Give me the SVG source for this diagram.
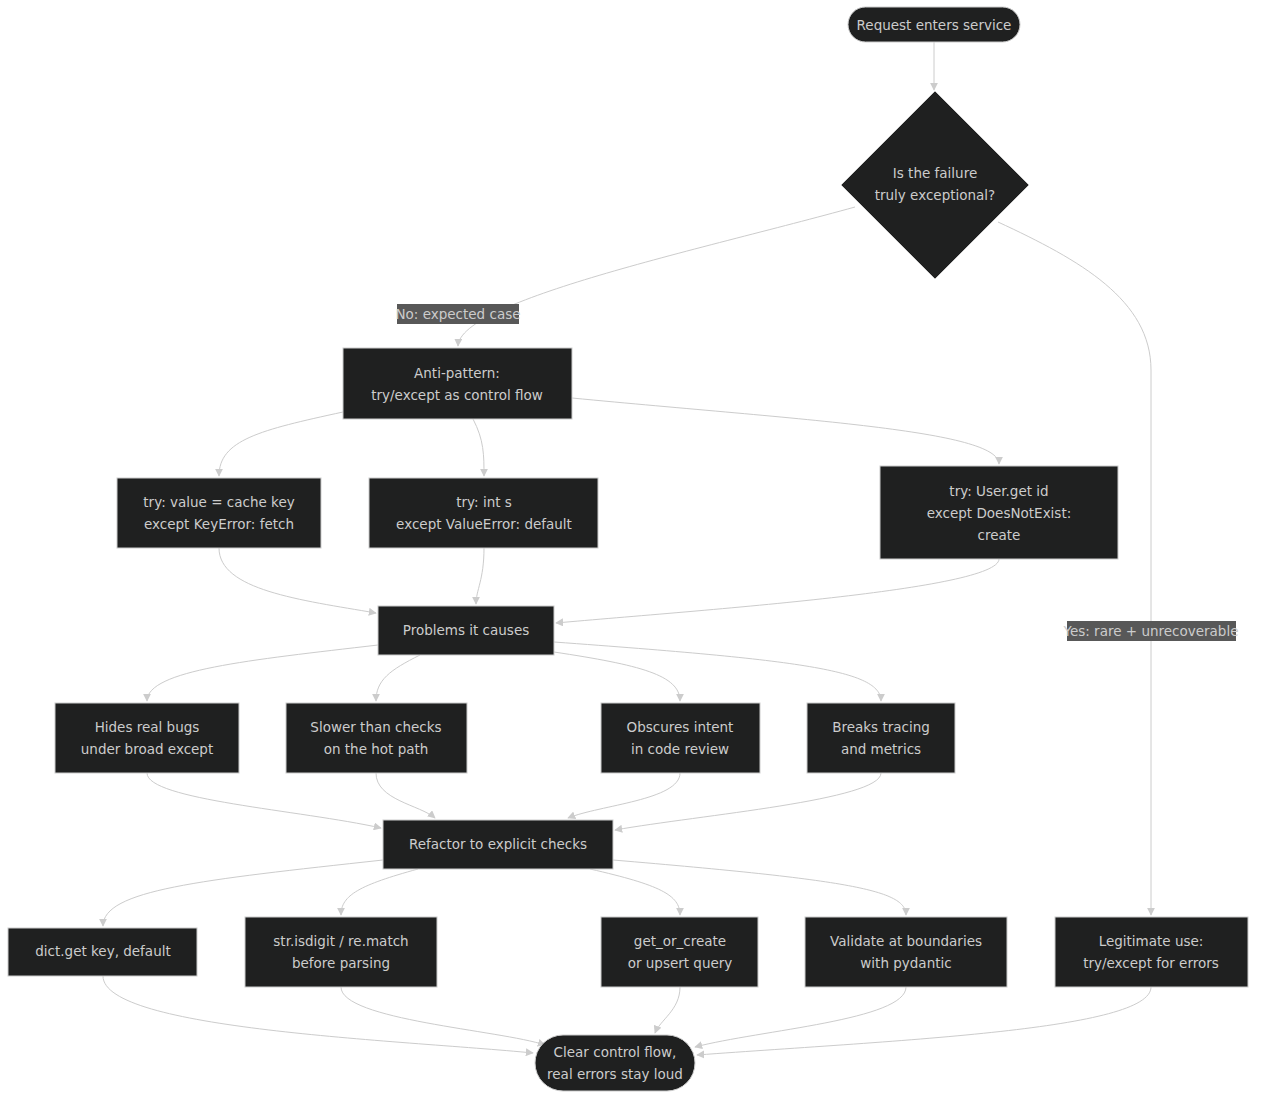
<svg xmlns="http://www.w3.org/2000/svg" width="1264" height="1107" viewBox="0 0 1264 1107">
<style>
.n{fill:#1f2020;stroke:#cccccc;stroke-width:1}
.t{fill:#cccccc;font-family:"DejaVu Sans",sans-serif;font-size:13.5px;text-anchor:middle}
.e{fill:none;stroke:#cccccc;stroke-width:1;marker-end:url(#a)}
.lb{fill:#585858}
</style>
<defs><marker id="a" viewBox="0 0 10 10" refX="9" refY="5" markerWidth="8" markerHeight="8" orient="auto"><path d="M0,0L10,5L0,10z" fill="#cccccc"/></marker></defs>
<rect width="1264" height="1107" fill="#ffffff"/>
<g id="edges">
<path class="e" d="M934,42V90"/>
<path class="e" d="M855,207C700,250 460,300 458,346"/>
<path class="e" d="M998,222C1080,260 1151,300 1151,370V915"/>
<path class="e" d="M343,412C260,430 219,440 219,476"/>
<path class="e" d="M473,419C484,440 484,455 484,476"/>
<path class="e" d="M572,398C800,420 999,430 999,464"/>
<path class="e" d="M219,548C219,590 300,600 376,613"/>
<path class="e" d="M484,548C484,580 476,590 476,604"/>
<path class="e" d="M999,559C999,590 700,610 556,623"/>
<path class="e" d="M378,645C250,660 147,670 147,701"/>
<path class="e" d="M420,655C390,670 376,680 376,701"/>
<path class="e" d="M554,652C640,665 680,675 680,701"/>
<path class="e" d="M554,642C800,660 881,670 881,701"/>
<path class="e" d="M147,773C147,800 300,810 381,828"/>
<path class="e" d="M376,773C376,800 420,805 435,818"/>
<path class="e" d="M680,773C680,800 600,805 568,818"/>
<path class="e" d="M881,773C881,800 700,815 615,830"/>
<path class="e" d="M383,860C200,880 103,890 103,926"/>
<path class="e" d="M418,869C360,885 341,895 341,915"/>
<path class="e" d="M590,869C660,885 680,895 680,915"/>
<path class="e" d="M613,860C850,880 906,890 906,915"/>
<path class="e" d="M103,976C103,1030 400,1040 533,1053"/>
<path class="e" d="M341,987C341,1020 500,1030 545,1045"/>
<path class="e" d="M680,987C680,1010 660,1020 655,1033"/>
<path class="e" d="M906,987C906,1020 760,1030 695,1047"/>
<path class="e" d="M1151,987C1151,1030 900,1040 697,1055"/>
</g>
<g id="lbl1"><rect class="lb" x="397" y="304" width="122" height="20"/><text class="t" x="458" y="319">No: expected case</text></g>
<g id="lbl2"><rect class="lb" x="1067" y="621" width="169" height="20"/><text class="t" x="1151" y="636">Yes: rare + unrecoverable</text></g>
<g id="start"><rect class="n" x="848" y="7" width="172" height="35" rx="17.5"/><text class="t" x="934" y="30">Request enters service</text></g>
<g id="decision"><polygon class="n" points="935,91 1029,185 935,279 841,185"/><text class="t" x="935" y="178">Is the failure</text><text class="t" x="935" y="200">truly exceptional?</text></g>
<g id="anti"><rect class="n" x="343" y="348" width="229" height="71"/><text class="t" x="457" y="378">Anti-pattern:</text><text class="t" x="457" y="400">try/except as control flow</text></g>
<g id="cache"><rect class="n" x="117" y="478" width="204" height="70"/><text class="t" x="219" y="507">try: value = cache key</text><text class="t" x="219" y="529">except KeyError: fetch</text></g>
<g id="int"><rect class="n" x="369" y="478" width="229" height="70"/><text class="t" x="484" y="507">try: int s</text><text class="t" x="484" y="529">except ValueError: default</text></g>
<g id="user"><rect class="n" x="880" y="466" width="238" height="93"/><text class="t" x="999" y="496">try: User.get id</text><text class="t" x="999" y="518">except DoesNotExist:</text><text class="t" x="999" y="540">create</text></g>
<g id="problems"><rect class="n" x="378" y="606" width="176" height="49"/><text class="t" x="466" y="635">Problems it causes</text></g>
<g id="hides"><rect class="n" x="55" y="703" width="184" height="70"/><text class="t" x="147" y="732">Hides real bugs</text><text class="t" x="147" y="754">under broad except</text></g>
<g id="slower"><rect class="n" x="286" y="703" width="181" height="70"/><text class="t" x="376" y="732">Slower than checks</text><text class="t" x="376" y="754">on the hot path</text></g>
<g id="obscures"><rect class="n" x="601" y="703" width="159" height="70"/><text class="t" x="680" y="732">Obscures intent</text><text class="t" x="680" y="754">in code review</text></g>
<g id="breaks"><rect class="n" x="807" y="703" width="148" height="70"/><text class="t" x="881" y="732">Breaks tracing</text><text class="t" x="881" y="754">and metrics</text></g>
<g id="refactor"><rect class="n" x="383" y="820" width="230" height="49"/><text class="t" x="498" y="849">Refactor to explicit checks</text></g>
<g id="dictget"><rect class="n" x="8" y="928" width="189" height="48"/><text class="t" x="103" y="956">dict.get key, default</text></g>
<g id="isdigit"><rect class="n" x="245" y="917" width="192" height="70"/><text class="t" x="341" y="946">str.isdigit / re.match</text><text class="t" x="341" y="968">before parsing</text></g>
<g id="goc"><rect class="n" x="601" y="917" width="157" height="70"/><text class="t" x="680" y="946">get_or_create</text><text class="t" x="680" y="968">or upsert query</text></g>
<g id="validate"><rect class="n" x="805" y="917" width="202" height="70"/><text class="t" x="906" y="946">Validate at boundaries</text><text class="t" x="906" y="968">with pydantic</text></g>
<g id="legit"><rect class="n" x="1055" y="917" width="193" height="70"/><text class="t" x="1151" y="946">Legitimate use:</text><text class="t" x="1151" y="968">try/except for errors</text></g>
<g id="clear"><rect class="n" x="535" y="1035" width="160" height="56" rx="28"/><text class="t" x="615" y="1057">Clear control flow,</text><text class="t" x="615" y="1079">real errors stay loud</text></g>
</svg>
